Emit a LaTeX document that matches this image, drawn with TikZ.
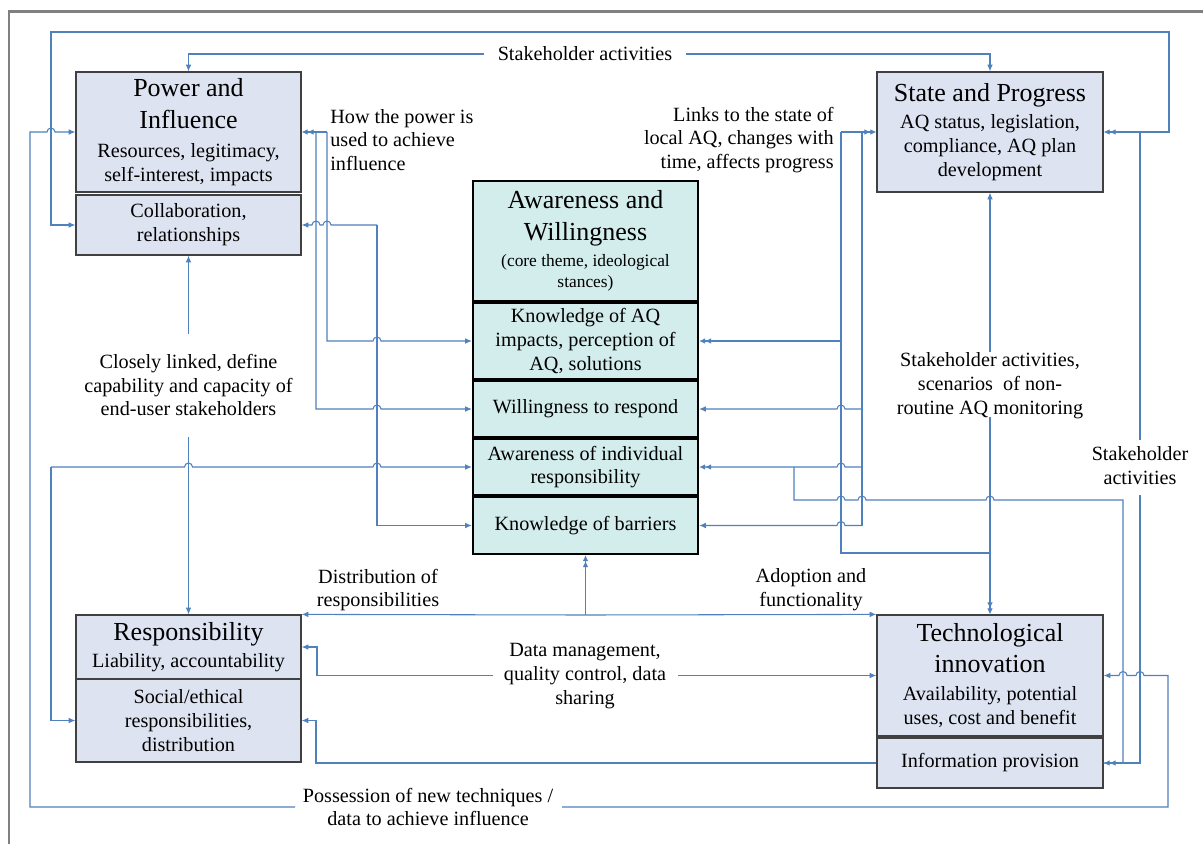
\documentclass[tikz,border=0pt]{standalone}
\usepackage{fontspec}
\setmainfont{Liberation Serif}
\usetikzlibrary{arrows.meta}
\definecolor{lblue}{RGB}{79,129,189}
\definecolor{boxfill}{RGB}{221,227,241}
\definecolor{corefill}{RGB}{211,236,236}
\definecolor{frameg}{RGB}{128,128,128}
\newcommand{\myBody}{\fontsize{11.5}{13.6}\selectfont}
\newcommand{\myTitle}{\fontsize{14.8}{18.1}\selectfont}
\newcommand{\mySmall}{\fontsize{9.9}{12}\selectfont}
\tikzset{
  bw/.style={minimum width=#1*0.02cm},
  bh/.style={minimum height=#1*0.02cm},
  pbox/.style={draw=black!75, line width=0.7pt, fill=boxfill, align=center, inner sep=0pt, font=\myBody},
  cbox/.style={draw=black, line width=1.3pt, fill=corefill, align=center, inner sep=0pt, font=\myBody},
  lab/.style={font=\myBody, inner sep=0pt, align=center},
  conn/.style={draw=lblue, line width=0.6pt},
  arr/.style={-{Latex[length=3.8pt,width=3.2pt]}},
  darr/.style={-{Latex[length=3.4pt,width=3.2pt]Latex[length=3.4pt,width=3.2pt]}},
}
\begin{document}
\begin{tikzpicture}[x=0.02cm,y=-0.02cm,line join=miter]
\useasboundingbox (0,0) rectangle (1203,843);
\fill[white] (0,0) rectangle (1203,843);
\draw[frameg, line width=1.7pt] (9,850) -- (9,11) -- (1210,11);

% ---- boxes ----
\node[pbox,bw=225,bh=120] (PI) at (188.5,132) {{\myTitle Power and}\\[4.5pt]{\myTitle Influence}\\[2.8pt]Resources, legitimacy,\\self-interest, impacts};
\node[pbox,bw=225,bh=60] (CO) at (188.5,225) {Collaboration,\\relationships};
\node[pbox,bw=226,bh=120] (SP) at (990,132) {{\myTitle State and Progress}\\[2.3pt]AQ status, legislation,\\compliance, AQ plan\\development};

\node[cbox,bw=225,bh=120,font=\mySmall] (AW) at (585.5,241) {{\myTitle Awareness and}\\[6.1pt]{\myTitle Willingness}\\[2.7pt](core theme, ideological\\stances)};
\node[cbox,bw=225,bh=76] (K1) at (585.5,341) {Knowledge of AQ\\impacts, perception of\\AQ, solutions};
\node[cbox,bw=225,bh=56] (K2) at (585.5,409) {Willingness to respond};
\node[cbox,bw=225,bh=56] (K3) at (585.5,467) {Awareness of individual\\responsibility};
\node[cbox,bw=225,bh=57] (K4) at (585.5,525.5) {Knowledge of barriers};

\node[pbox,bw=225,bh=64] (RB1) at (188.5,647) {{\myTitle Responsibility}\\[1.7pt]Liability, accountability};
\node[pbox,bw=225,bh=83] (RB2) at (188.5,720.5) {Social/ethical\\responsibilities,\\distribution};
\node[pbox,bw=226,bh=121] (TI) at (990,675.5) {{\myTitle Technological}\\[4pt]{\myTitle innovation}\\[2.3pt]Availability, potential\\uses, cost and benefit};
\node[pbox,bw=226,bh=50] (IP) at (990,763) {Information provision};

% ---- labels ----
\node[lab,inner xsep=0.26cm] (stk1) at (585,54) {Stakeholder activities};
\node[lab,anchor=west,align=left] (howlab) at (330,140) {How the power is\\used to achieve\\influence};
\node[lab,anchor=east,align=right] (linklab) at (834,140) {Links to the state of\\local AQ, changes with\\time, affects progress};
\node[lab] (closelab) at (188.5,385) {Closely linked, define\\capability and capacity of\\end-user stakeholders};
\node[lab] (scenlab) at (990,386) {Stakeholder activities,\\scenarios\ \ of non-\\routine AQ monitoring};
\node[lab] (stk2) at (1140,466) {Stakeholder\\activities};
\node[lab] (distlab) at (378,590) {Distribution of\\responsibilities};
\node[lab] (adoptlab) at (811,590) {Adoption and\\functionality};
\node[lab] (datalab) at (585,676) {Data management,\\quality control, data\\sharing};
\node[lab] (posslab) at (428,807) {Possession of new techniques /\\data to achieve influence};

% ---- coordinates ----
\coordinate (o1) at (51,32);
\coordinate (o2) at (1169,32);
\coordinate (s1) at (1140,132);
\coordinate (s2) at (1140,440);
\coordinate (s3) at (1140,495);
\coordinate (p1) at (295,807);
\coordinate (p2) at (562,807);
\coordinate (a1) at (316,132);
\coordinate (a2) at (327,132);
\coordinate (cl1) at (188.5,334);
\coordinate (cl2) at (188.5,437);
\coordinate (r1) at (841,132);
\coordinate (r2) at (862,132);
\coordinate (v1) at (990,352);
\coordinate (v2) at (990,417);
\coordinate (bc) at (585.5,615);
\coordinate (d1) at (493,675.5);
\coordinate (d2) at (678,675.5);

% ---- outer stakeholder loop ----
\draw[conn,arr] (o2) -- (o1) |- (CO.west);
\draw[conn,darr] (o1) -- (o2) |- (SP.east);
\draw[conn] (s1) -- (s2);
\draw[conn,darr] (s3) |- (IP.east);

% ---- inner stakeholder activities ----
\draw[conn,arr] (stk1.west) -| (PI.north);
\draw[conn,arr] (stk1.east) -| (SP.north);

% ---- possession loop ----
\draw[conn,arr] (p1) -- (30,807) -- (30,132) -- (47,132) arc[start angle=180,end angle=360,radius=4] -- (PI.west);
\draw[conn,arr] (p2) -- (1168,807) -- (1168,675.5) -- (1144,675.5) arc[start angle=0,end angle=-180,radius=4] -- (1127,675.5) arc[start angle=0,end angle=-180,radius=4] -- (TI.east);

% ---- power and influence to core ----
\draw[conn,darr] (a2) -- (PI.east);
\draw[conn,arr] (a2) -- (327,341) -- (373,341) arc[start angle=180,end angle=360,radius=4] -- (K1.west);
\draw[conn,arr] (a1) -- (316,409) -- (373,409) arc[start angle=180,end angle=360,radius=4] -- (K2.west);
\draw[conn,arr] (377,225) -- (331,225) arc[start angle=0,end angle=-180,radius=4] -- (320,225) arc[start angle=0,end angle=-180,radius=4] -- (CO.east);
\draw[conn,arr] (377,225) |- (K4.west);

% ---- closely linked ----
\draw[conn,arr] (cl1) -- (CO.south);
\draw[conn,arr] (cl2) -- (RB1.north);

% ---- left link to awareness / social ----
\draw[conn,arr] (51,467) -- (184.5,467) arc[start angle=180,end angle=360,radius=4] -- (373,467) arc[start angle=180,end angle=360,radius=4] -- (K3.west);
\draw[conn,arr] (51,467) |- (RB2.west);

% ---- right side ----
\draw[conn,darr] (r1) -- (SP.west);
\draw[conn] (r1) -- (841,553) -- (990,553);
\draw[conn,darr] (841,341) -- (K1.east);
\draw[conn] (r2) -- (862,525.5);
\draw[conn,arr] (862,409) -- (845,409) arc[start angle=0,end angle=-180,radius=4] -- (K2.east);
\draw[conn,darr] (862,467) -- (845,467) arc[start angle=0,end angle=-180,radius=4] -- (K3.east);
\draw[conn,arr] (862,525.5) -- (845,525.5) arc[start angle=0,end angle=-180,radius=4] -- (K4.east);
\draw[conn] (794,467) -- (794,500) -- (837,500) arc[start angle=180,end angle=360,radius=4] -- (858,500) arc[start angle=180,end angle=360,radius=4] -- (986,500) arc[start angle=180,end angle=360,radius=4] -- (1123,500) |- (IP.east);

% ---- state <-> technology ----
\draw[conn,arr] (v1) -- (SP.south);
\draw[conn,darr] (v2) -- (TI.north);

% ---- bottom centre ----
\draw[conn,darr] (bc) -- (K4.south);
\draw[conn,arr] (bc) -- (RB1.north east);
\draw[conn,arr] (bc) -- (TI.north west);

% ---- data management ----
\draw[conn,arr] (d1) -- (317,675.5) |- (RB1.east);
\draw[conn,arr] (d2) -- (TI.west);

% ---- information provision to responsibility ----
\draw[conn,arr] (IP.west) -- (316,763) |- (RB2.east);
\end{tikzpicture}
\end{document}
